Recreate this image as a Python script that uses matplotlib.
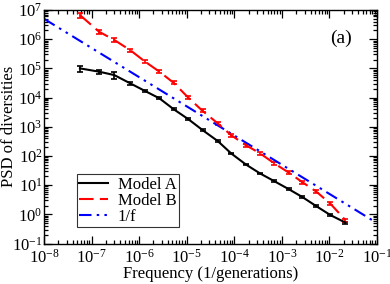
import numpy as np
import matplotlib
matplotlib.use('Agg')
import matplotlib.pyplot as plt
from matplotlib.lines import Line2D
from matplotlib.ticker import LogLocator, NullFormatter

plt.rcParams['font.family'] = ['Liberation Serif', 'DejaVu Serif']
plt.rcParams['mathtext.fontset'] = 'stix'

# --- data ---
freq = [5.7e-8, 1.44e-7, 3.0e-7, 6.5e-7, 1.34e-6, 2.67e-6, 5.3e-6, 1.09e-5,
        2.15e-5, 4.5e-5, 8.6e-5, 1.75e-4, 3.5e-4, 6.9e-4, 1.39e-3, 2.7e-3,
        5.3e-3, 1.05e-2, 2.17e-2]
psd_a = [1.0e5, 7.7e4, 5.9e4, 3.07e4, 1.67e4, 9.4e3, 4.0e3, 1.8e3, 770, 323,
         122, 51, 25, 13.7, 7.3, 3.9, 1.9, 0.94, 0.52]
psd_b = [6.7e6, 1.8e6, 9.4e5, 4.2e5, 1.69e5, 7.7e4, 3.2e4, 9.8e3, 3.5e3, 1.3e3,
         515, 234, 122, 56, 27, 12.6, 6.0, 2.3, 0.63]
# relative error bars
err_a = [0.25, 0.15, 0.25, 0.12, 0.09, 0.08, 0.07, 0.07, 0.07, 0.07,
         0.07, 0.07, 0.07, 0.07, 0.07, 0.07, 0.07, 0.07, 0.07]
err_b = [0.22, 0.17, 0.14, 0.12, 0.12, 0.12, 0.12, 0.12, 0.12, 0.12,
         0.12, 0.12, 0.12, 0.12, 0.12, 0.12, 0.12, 0.12, 0.12]
# reference 1/f line
ref_c = 0.05
ref_range = [1e-8, 0.08]
labels = ['Model A', 'Model B', '1/f']


def main():
    fig = plt.figure(figsize=(3.9, 2.84), dpi=100)
    ax = fig.add_axes([0.1128, 0.1426, 0.8539, 0.8222])

    f = np.array(freq)
    a = np.array(psd_a)
    b = np.array(psd_b)

    ax.errorbar(f, a, yerr=a * np.array(err_a), color='black', lw=1.5,
                capsize=2.5, elinewidth=1.2, capthick=1.2)
    ax.errorbar(f, b, yerr=b * np.array(err_b), color='red', lw=1.5,
                dashes=(7, 3), capsize=2.5, elinewidth=1.2, capthick=1.2)
    fr = np.array(ref_range)
    ref_dash = (6, 2.5, 1.2, 2.5, 1.2, 2.5)
    ax.plot(fr, ref_c / fr, color='blue', lw=1.5, dashes=ref_dash)

    ax.set_xscale('log')
    ax.set_yscale('log')
    ax.set_xlim(1e-8, 1e-1)
    ax.set_ylim(1e-1, 1e7)

    ax.xaxis.set_major_locator(LogLocator(base=10, numticks=20))
    ax.yaxis.set_major_locator(LogLocator(base=10, numticks=20))
    ax.xaxis.set_minor_locator(LogLocator(base=10, subs=np.arange(2, 10), numticks=20))
    ax.yaxis.set_minor_locator(LogLocator(base=10, subs=np.arange(2, 10), numticks=20))
    ax.xaxis.set_minor_formatter(NullFormatter())
    ax.yaxis.set_minor_formatter(NullFormatter())

    ax.tick_params(which='both', direction='in', top=True, right=True,
                   labelsize=12, width=0.9)
    ax.tick_params(which='major', length=6)
    ax.tick_params(which='minor', length=3)
    ax.tick_params(axis='x', pad=4)
    ax.tick_params(axis='y', pad=1)
    for s in ax.spines.values():
        s.set_linewidth(1.0)

    ax.set_xlabel('Frequency (1/generations)', fontsize=12, labelpad=-1)
    ax.set_ylabel('PSD of diversities', fontsize=12)
    ax.yaxis.set_label_coords(-0.082, 0.5)

    ax.text(0.925, 0.88, '(a)', transform=ax.transAxes, fontsize=14,
            ha='right', va='center')

    handles = [Line2D([], [], color='black', lw=1.5),
               Line2D([], [], color='red', lw=1.5, dashes=(7, 3)),
               Line2D([], [], color='blue', lw=1.5, dashes=ref_dash)]
    leg = ax.legend(handles, labels, loc='lower left',
                    bbox_to_anchor=(0.099, 0.07),
                    fontsize=12, frameon=True, fancybox=False,
                    handlelength=1.7, handletextpad=0.6, labelspacing=0.0,
                    borderpad=0.15, borderaxespad=0)
    leg.get_frame().set_edgecolor('black')
    leg.get_frame().set_linewidth(0.8)

    fig.savefig('out.png', dpi=100)
    plt.close(fig)


if __name__ == '__main__':
    main()
